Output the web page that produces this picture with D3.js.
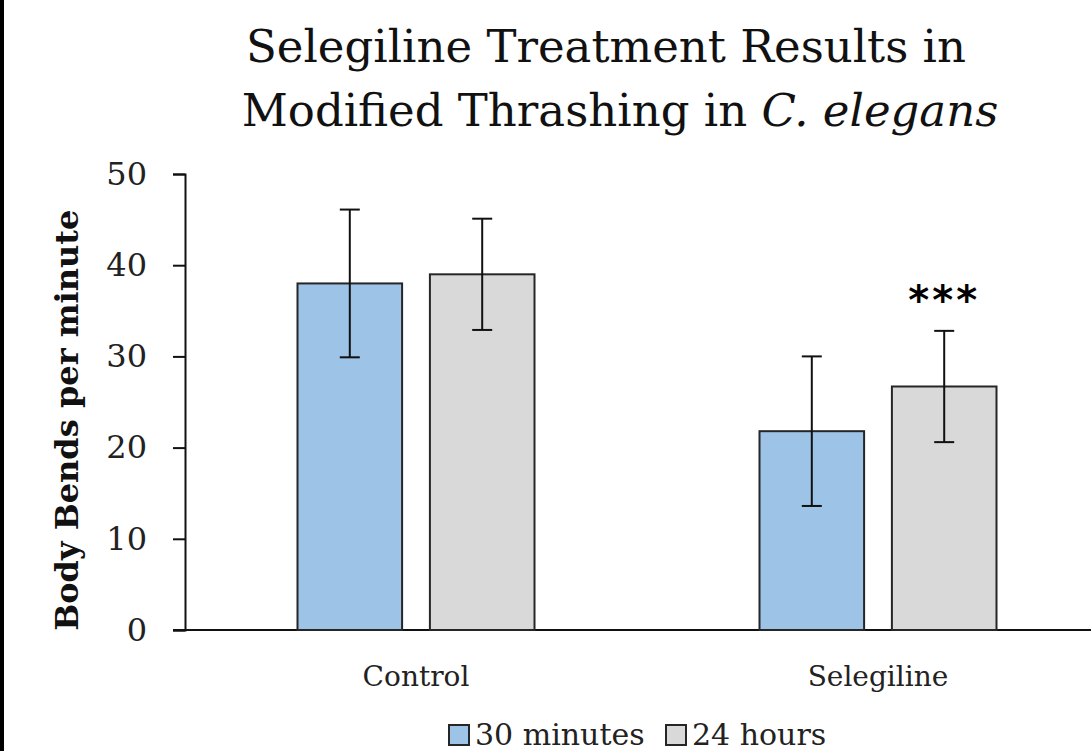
<!DOCTYPE html>
<html>
<head>
<meta charset="utf-8">
<script src="https://cdn.jsdelivr.net/npm/d3@7"></script>
<style>
  body { margin: 0; background: #fff; }
  svg { display: block; font-family: "DejaVu Serif", serif; }
</style>
</head>
<body>
<script>
// Data
const categories = ['Control', 'Selegiline']
const seriesNames = ['30 minutes', '24 hours']
const seriesColors = ['#9DC3E6', '#D9D9D9']
const means30 = [38, 21.8]
const means24 = [39, 26.7]
const err30 = [8.1, 8.2]
const err24 = [6.1, 6.1]
const significance = ['', '***']
const yTicks = [0, 10, 20, 30, 40, 50]

const W = 1091, H = 751
const margin = { top: 174, left: 185, bottom: 121 }
const plotH = H - margin.top - margin.bottom

const svg = d3.select('body').append('svg')
  .attr('width', W).attr('height', H)

// black strip on the left edge of the screenshot
svg.append('rect').attr('x', 0).attr('y', 0).attr('width', 4).attr('height', H).attr('fill', '#000')

// Scales
const x0 = d3.scaleBand().domain(categories).range([margin.left, margin.left + 924])
const x1 = d3.scaleBand().domain(seriesNames).range([0, 237]).paddingInner(0.21)
const y = d3.scaleLinear().domain([0, 50]).range([margin.top + plotH, margin.top])

// Title
const title = svg.append('text')
  .attr('text-anchor', 'middle')
  .style('font-size', '45px').attr('fill', '#111')
title.append('tspan').attr('x', 606).attr('y', 62).text('Selegiline Treatment Results in')
const t2 = title.append('tspan').attr('x', 620).attr('y', 126)
t2.append('tspan').text('Modified Thrashing in ')
t2.append('tspan').style('font-style', 'italic').text('C. elegans')

// Y axis
const yAxis = svg.append('g')
  .attr('transform', `translate(${margin.left},0)`)
  .call(d3.axisLeft(y).tickValues(yTicks).tickSize(12).tickPadding(26))
yAxis.select('.domain').attr('stroke', '#111').attr('stroke-width', 2)
yAxis.selectAll('.tick line').attr('stroke', '#111').attr('stroke-width', 2)
yAxis.selectAll('.tick text').style('font-size', '32px').style('font-family', '"DejaVu Serif", serif').attr('fill', '#222')

// X axis line
svg.append('line')
  .attr('x1', margin.left - 12).attr('x2', W)
  .attr('y1', y(0)).attr('y2', y(0))
  .attr('stroke', '#111').attr('stroke-width', 2)

// Category labels
svg.selectAll('.cat')
  .data(categories)
  .enter().append('text')
  .attr('class', 'cat')
  .attr('x', d => x0(d) + x0.bandwidth() / 2)
  .attr('y', 686)
  .attr('text-anchor', 'middle')
  .style('font-size', '28px')
  .attr('fill', '#222')
  .text(d => d)

// Bars
const rows = []
categories.forEach((c, i) => {
  rows.push({ cat: c, s: 0, v: means30[i], e: err30[i] })
  rows.push({ cat: c, s: 1, v: means24[i], e: err24[i] })
})
const bx = d => x0(d.cat) + (x0.bandwidth() - 237) / 2 + x1(seriesNames[d.s])

svg.selectAll('.bar')
  .data(rows)
  .enter().append('rect')
  .attr('class', 'bar')
  .attr('x', bx)
  .attr('y', d => y(d.v))
  .attr('width', x1.bandwidth())
  .attr('height', d => y(0) - y(d.v))
  .attr('fill', d => seriesColors[d.s])
  .attr('stroke', '#262626')
  .attr('stroke-width', 2)

// Error bars
const eb = svg.selectAll('.err').data(rows).enter().append('g').attr('class', 'err')
  .attr('stroke', '#111').attr('stroke-width', 2)
eb.append('line')
  .attr('x1', d => bx(d) + x1.bandwidth() / 2).attr('x2', d => bx(d) + x1.bandwidth() / 2)
  .attr('y1', d => y(d.v - d.e)).attr('y2', d => y(d.v + d.e))
eb.append('line')
  .attr('x1', d => bx(d) + x1.bandwidth() / 2 - 10).attr('x2', d => bx(d) + x1.bandwidth() / 2 + 10)
  .attr('y1', d => y(d.v + d.e)).attr('y2', d => y(d.v + d.e))
eb.append('line')
  .attr('x1', d => bx(d) + x1.bandwidth() / 2 - 10).attr('x2', d => bx(d) + x1.bandwidth() / 2 + 10)
  .attr('y1', d => y(d.v - d.e)).attr('y2', d => y(d.v - d.e))

// Significance stars
svg.selectAll('.sig')
  .data(categories)
  .enter().append('text')
  .attr('class', 'sig')
  .attr('x', (d, i) => bx({ cat: d, s: 1 }) + x1.bandwidth() / 2)
  .attr('y', (d, i) => y(means24[i] + err24[i]))
  .attr('dy', -17)
  .attr('text-anchor', 'middle')
  .style('font-size', '40px')
  .style('font-weight', 'bold')
  .style('font-family', '"DejaVu Sans", sans-serif')
  .style('letter-spacing', '3px')
  .text((d, i) => significance[i])

// Y axis label
svg.append('text')
  .attr('transform', `translate(78, ${(y(0) + y(46)) / 2}) rotate(-90)`)
  .attr('text-anchor', 'middle')
  .style('font-size', '32px')
  .style('font-weight', 'bold')
  .attr('fill', '#111')
  .text('Body Bends per minute')

// Legend
const legendX = [449, 666]
const legend = svg.selectAll('.leg').data(seriesNames).enter().append('g')
  .attr('transform', (d, i) => `translate(${legendX[i]}, 725)`)
legend.append('rect')
  .attr('width', 20).attr('height', 20)
  .attr('fill', (d, i) => seriesColors[i])
  .attr('stroke', '#262626').attr('stroke-width', 2)
legend.append('text')
  .attr('x', 26).attr('y', 20)
  .style('font-size', '30px')
  .attr('fill', '#222')
  .text(d => d)
</script>
</body>
</html>
